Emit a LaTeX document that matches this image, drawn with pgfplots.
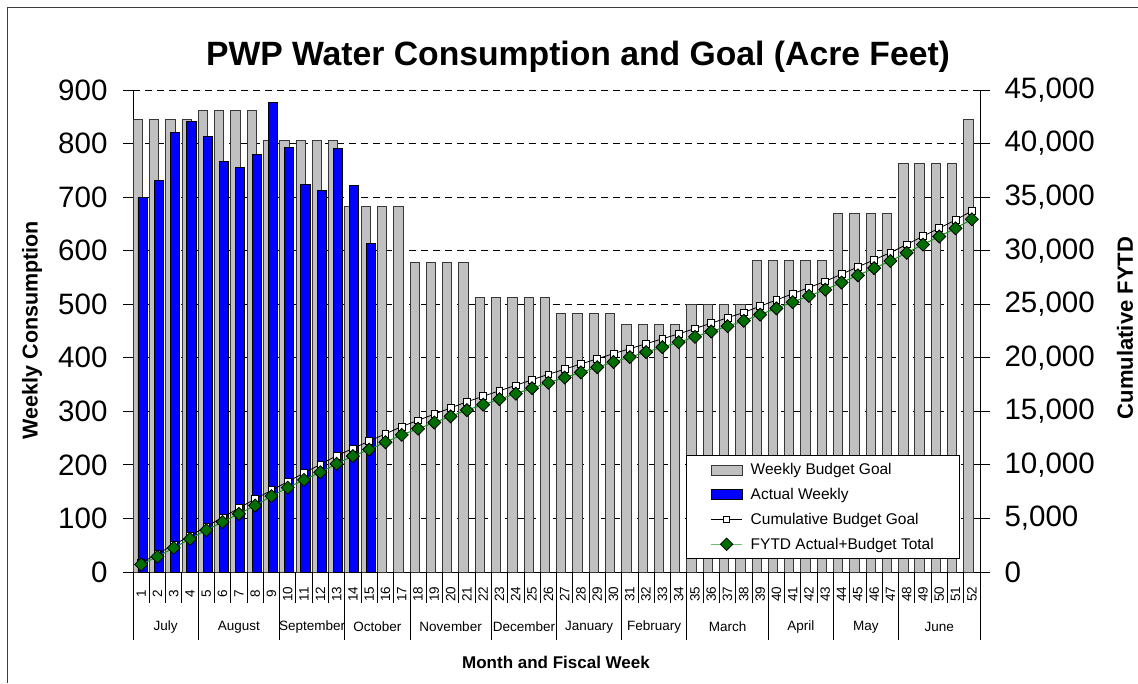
\documentclass[border=0pt]{standalone}
\usepackage{pgfplots}
\pgfplotsset{compat=1.18}
\usepackage{pgfplotstable}
\usepackage{fontspec}
\setmainfont{Liberation Sans}
\definecolor{bargray}{RGB}{192,192,192}
\definecolor{baredge}{RGB}{55,55,55}
\definecolor{fytdline}{RGB}{20,150,20}
\definecolor{fytdfill}{RGB}{0,110,0}
\definecolor{fytdleg}{RGB}{110,190,110}
\definecolor{framecol}{RGB}{60,60,60}

\pgfplotsset{
  linelegend/.style={legend image code/.code={\draw[mark repeat=2, mark phase=2, ##1] plot coordinates {(0pt,0pt) (15.5pt,0pt) (31pt,0pt)};}},
  graylegend/.style={legend image code/.code={\draw[fill=bargray, draw=baredge, line width=0.9pt] (0pt,-5pt) rectangle (31pt,5pt);}},
  bluelegend/.style={legend image code/.code={\draw[fill=blue, draw=black, line width=0.9pt] (0pt,-5pt) rectangle (31pt,5pt);}},
}

\pgfplotstableread{
w budget cum fytd
1 845 845 700
2 845 1690 1431
3 845 2535 2251
4 845 3380 3092
5 861 4241 3905
6 861 5102 4672
7 861 5963 5428
8 861 6824 6207
9 806 7630 7083
10 806 8436 7875
11 806 9242 8599
12 806 10048 9311
13 806 10854 10101
14 682 11536 10822
15 682 12218 11435
16 682 12900 12117
17 682 13582 12799
18 578 14160 13377
19 578 14738 13955
20 578 15316 14533
21 578 15894 15111
22 512 16406 15623
23 512 16918 16135
24 512 17430 16647
25 512 17942 17159
26 512 18454 17671
27 483 18937 18154
28 483 19420 18637
29 483 19903 19120
30 483 20386 19603
31 462 20848 20065
32 462 21310 20527
33 462 21772 20989
34 462 22234 21451
35 500 22734 21951
36 500 23234 22451
37 500 23734 22951
38 500 24234 23451
39 581 24815 24032
40 581 25396 24613
41 581 25977 25194
42 581 26558 25775
43 581 27139 26356
44 670 27809 27026
45 670 28479 27696
46 670 29149 28366
47 670 29819 29036
48 762 30581 29798
49 762 31343 30560
50 762 32105 31322
51 762 32867 32084
52 845 33712 32929
}\datatable

\pgfplotstableread{
w actual
1 700
2 731
3 820
4 841
5 813
6 767
7 756
8 779
9 876
10 792
11 724
12 712
13 790
14 721
15 613
}\actualtable

\begin{document}
\begin{tikzpicture}
\useasboundingbox (0,0) rectangle (1138pt,683pt);
\draw[framecol, line width=1.5pt] (7.5pt,0pt) -- (7.5pt,675.5pt) -- (1138pt,675.5pt);

\begin{axis}[
  at={(133pt,111pt)}, anchor=south west,
  scale only axis, width=847pt, height=482pt,
  xmin=0.5, xmax=52.5, ymin=0, ymax=900,
  axis y line*=left, axis x line*=bottom,
  axis line style={black, line width=1pt},
  ytick={0,100,...,900},
  xtick={1,...,52},
  major x tick style={draw=none},
  tick align=outside, major tick length=10pt,
  tick style={black, line width=0.8pt},
  ymajorgrids,
  major grid style={black, dash pattern=on 7pt off 5pt, line width=0.8pt},
  /pgf/number format/assume math mode=true,
  y tick label style={font=\fontsize{29.5}{32}\selectfont, xshift=-12pt},
  x tick label style={font=\fontsize{13.5}{15}\selectfont, yshift=-12pt, rotate=90, anchor=center},
  clip=false,
]
\addplot[ybar, bar width=9.3pt, bar shift=-3.4pt, fill=bargray, draw=baredge, line width=0.9pt] table[x=w, y=budget]{\datatable};
\addplot[ybar, bar width=9.1pt, bar shift=1.4pt, fill=blue, draw=black, line width=0.9pt] table[x=w, y=actual]{\actualtable};
\end{axis}

\begin{axis}[
  at={(133pt,111pt)}, anchor=south west,
  scale only axis, width=847pt, height=482pt,
  xmin=0.5, xmax=52.5, ymin=0, ymax=45000,
  axis y line*=right, axis x line=none,
  axis line style={black, line width=1pt},
  ytick={0,5000,...,45000},
  scaled y ticks=false,
  tick align=outside, major tick length=10pt,
  tick style={black, line width=0.8pt},
  /pgf/number format/assume math mode=true,
  y tick label style={font=\fontsize{29.5}{32}\selectfont, xshift=11pt, /pgf/number format/1000 sep={,}},
  clip=false,
  legend style={at={(0.653,0.027)}, anchor=south west, draw=black, fill=white, line width=0.8pt,
    font=\fontsize{15.5}{18}\selectfont, inner xsep=24pt, inner ysep=6pt, row sep=8pt,
    /tikz/every odd column/.append style={column sep=6pt}},
  legend cell align=left,
]
\addlegendimage{graylegend}
\addlegendentry{Weekly Budget Goal}
\addlegendimage{bluelegend}
\addlegendentry{Actual Weekly}
\addlegendimage{linelegend, black, line width=0.8pt, mark=square*, mark size=3.2pt, mark options={fill=white, draw=black, line width=0.8pt}}
\addlegendentry{Cumulative Budget Goal}
\addlegendimage{linelegend, fytdleg, line width=1.2pt, mark=square*, mark size=4.4pt, mark options={rotate=45, fill=fytdfill, draw=black, line width=0.8pt}}
\addlegendentry{FYTD Actual+Budget Total}

\addplot[black, line width=0.8pt, mark=square*, mark size=3.4pt, mark options={fill=white, draw=black, line width=0.8pt}, forget plot] table[x=w, y=cum]{\datatable};
\addplot[fytdline, line width=1pt, mark=square*, mark size=4.6pt, mark options={rotate=45, fill=fytdfill, draw=black, line width=0.8pt}, forget plot] table[x=w, y=fytd]{\datatable};
\end{axis}

% week separators and month separators
\foreach \k in {0,...,52} {
  \draw[black, line width=0.8pt] ({(133+\k*16.2885)*1pt},111pt) -- ++(0,-31pt);
}
\foreach \k in {0,4,9,13,17,22,26,30,34,39,43,47,52} {
  \draw[black, line width=0.8pt] ({(133+\k*16.2885)*1pt},111pt) -- ++(0,-68pt);
}
\foreach \c/\m in {2/July,6.5/August,11/September,15/October,19.5/November,24/December,28/January,32/February,36.5/March,41/April,45/May,49.5/June} {
  \node[font=\fontsize{13.5}{15}\selectfont] at ({(133+\c*16.2885)*1pt},56pt) {\m};
}

\node[font=\bfseries\fontsize{33.7}{38}\selectfont] at (578pt,626pt) {PWP Water Consumption and Goal (Acre Feet)};
\node[font=\bfseries\fontsize{21.5}{25}\selectfont, rotate=90] at (32pt,353pt) {Weekly Consumption};
\node[font=\bfseries\fontsize{22}{25}\selectfont, rotate=90] at (1125pt,355pt) {Cumulative FYTD};
\node[font=\bfseries\fontsize{17}{20}\selectfont] at (556pt,21pt) {Month and Fiscal Week};
\end{tikzpicture}
\end{document}
